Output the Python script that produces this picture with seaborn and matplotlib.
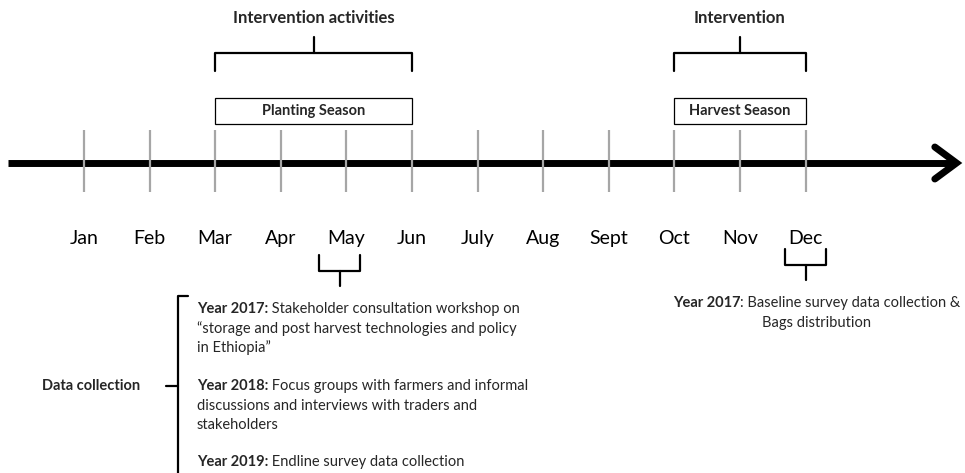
import matplotlib
matplotlib.use("Agg")
import matplotlib.pyplot as plt
from matplotlib.patches import Rectangle
import numpy as np
import pandas as pd
import seaborn as sns

# timeline data
months = ["Jan", "Feb", "Mar", "Apr", "May", "Jun", "July", "Aug", "Sept", "Oct", "Nov", "Dec"]
seasons = ["Planting Season", "Harvest Season"]
season_start = ["Mar", "Oct"]
season_end = ["Jun", "Dec"]
season_titles = ["Intervention activities", "Intervention"]
collection_months = ["May", "Dec"]

left_years = ["Year 2017:", "Year 2018:", "Year 2019:"]
left_first = [" Stakeholder consultation workshop on", " Focus groups with farmers and informal",
              " Endline survey data collection"]
left_rest = ["“storage and post harvest technologies and policy\nin Ethiopia”",
             "discussions and interviews with traders and\nstakeholders", ""]
right_year = "Year 2017"
right_first = ": Baseline survey data collection &"
right_second = "Bags distribution"

sns.set_theme(style="white")
plt.rcParams['font.family'] = ['Lato', 'DejaVu Sans']

df = pd.DataFrame({"month": months, "pos": np.arange(len(months))})
pos = dict(zip(df["month"], df["pos"]))

fig = plt.figure(figsize=(9.65, 4.73), dpi=100)
ax = fig.add_axes([0, 0, 1, 1])

# month ticks
sns.scatterplot(data=df, x="pos", y=np.full(len(df), 161), marker="|", s=2000,
                color="#a6a6a6", linewidth=1.6, ax=ax, zorder=3, legend=False)
ax.set_xlim(-1.28, 13.43)
ax.set_ylim(473, 0)
ax.axis("off")

# main arrow
ax.plot([-1.16, 13.25], [163, 163], color="black", lw=5, solid_capstyle="butt", zorder=2)
ax.plot([12.97, 13.30, 12.97], [147, 163, 179], color="black", lw=5,
        solid_capstyle="round", solid_joinstyle="miter", zorder=2)

for m, p in pos.items():
    ax.text(p, 238, m, ha="center", va="center", fontsize=14, color="black")

# seasons with brackets on top
for name, s, e, title in zip(seasons, season_start, season_end, season_titles):
    x0, x1 = pos[s], pos[e]
    mid = (x0 + x1) / 2
    ax.add_patch(Rectangle((x0, 98), x1 - x0, 26, facecolor="white",
                           edgecolor="black", lw=0.9, zorder=3))
    ax.text(mid, 111, name, ha="center", va="center", fontsize=10.5, fontweight="bold")
    ax.plot([x0, x0, x1, x1], [71, 53, 53, 71], color="black", lw=1.6)
    ax.plot([mid, mid], [53, 37], color="black", lw=1.6)
    ax.text(mid, 18, title, ha="center", va="center", fontsize=12, fontweight="bold")

# data collection brackets under months
for m, shift, top in zip(collection_months, [-0.1, 0.0], [255, 249]):
    c = pos[m] + shift
    ax.plot([c - 0.31, c - 0.31, c + 0.31, c + 0.31], [top, top + 16, top + 16, top],
            color="black", lw=1.6)
    ax.plot([c, c], [top + 16, top + 31], color="black", lw=1.6)

renderer = fig.canvas.get_renderer()
inv = ax.transData.inverted()


def bold_then_normal(x, y, head, tail, size=10.5):
    t = ax.text(x, y, head, ha="left", va="center", fontsize=size, fontweight="bold")
    bb = t.get_window_extent(renderer)
    x_end = inv.transform((bb.x1, bb.y0))[0]
    ax.text(x_end, y, tail, ha="left", va="center", fontsize=size)
    return bb


# right note, centred under Dec
centre = pos["Dec"] + 0.17
probe_b = ax.text(0, 0, right_year, fontsize=10.5, fontweight="bold")
probe_n = ax.text(0, 0, right_first, fontsize=10.5)
w = probe_b.get_window_extent(renderer).width + probe_n.get_window_extent(renderer).width
probe_b.remove()
probe_n.remove()
cpx = ax.transData.transform((centre, 0))[0]
x_start = inv.transform((cpx - w / 2, 0))[0]
bold_then_normal(x_start, 303, right_year, right_first)
ax.text(centre, 323, right_second, ha="center", va="center", fontsize=10.5)

# left data collection block
ax.plot([1.585, 1.433, 1.433], [296, 296, 480], color="black", lw=1.6)
ax.plot([1.25, 1.433], [386, 386], color="black", lw=1.6)
ax.text(0.854, 386, "Data collection", ha="right", va="center", fontsize=10.5, fontweight="bold")

for y, yr, first, rest in zip([309, 386, 462], left_years, left_first, left_rest):
    bold_then_normal(1.723, y, yr, first)
    for i, line in enumerate(rest.split("\n")):
        if line:
            ax.text(1.723, y + 19.5 * (i + 1), line, ha="left", va="center", fontsize=10.5)

fig.savefig("out.png", dpi=100)
